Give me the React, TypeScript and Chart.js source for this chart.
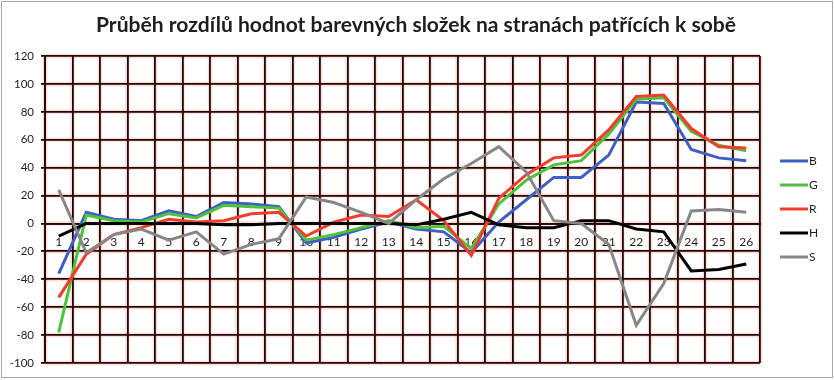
import React, { useEffect, useRef } from "react";
import { Chart, registerables } from "chart.js";

Chart.register(...registerables);

const TITLE = "Průběh rozdílů hodnot barevných složek na stranách patřících k sobě";

const categories = ["1", "2", "3", "4", "5", "6", "7", "8", "9", "10", "11", "12", "13", "14", "15", "16", "17", "18", "19", "20", "21", "22", "23", "24", "25", "26"];

const seriesB = [-36, 8, 3, 2, 9, 5, 15, 14, 12, -14, -10, -4, 1, -4, -6, -21, 1, 17, 33, 33, 49, 87, 86, 53, 47, 45];
const seriesG = [-78, 6, 2, 1, 7, 4, 13, 12, 11, -12, -8, -3, 2, -3, -2, -18, 14, 31, 42, 45, 64, 89, 90, 66, 56, 52];
const seriesR = [-53, -22, -8, -3, 3, 1, 2, 7, 8, -9, 1, 6, 5, 17, 2, -23, 18, 35, 47, 49, 67, 91, 92, 68, 55, 54];
const seriesH = [-9, 0, 0, 0, 0, 0, -1, -1, 0, 0, 0, 0, 0, -1, 3, 8, -1, -3, -3, 2, 2, -4, -6, -34, -33, -29];
const seriesS = [24, -21, -8, -4, -12, -6, -22, -15, -11, 19, 15, 8, 0, 17, 32, 43, 55, 37, 2, 0, -15, -73, -43, 9, 10, 8];

const Y_MIN = -100;
const Y_MAX = 120;
const Y_STEP = 20;

const GRID = "#240404";
const HALO = "rgba(235,140,120,0.28)";
const TEXT = "#1e1e1e";

const decorPlugin = {
  id: "decor",
  beforeDraw(chart: any) {
    const { ctx, width, height, chartArea, scales } = chart;
    ctx.save();
    ctx.fillStyle = "#ffffff";
    ctx.fillRect(0, 0, width, height);
    ctx.strokeStyle = "#a8a8a8";
    ctx.lineWidth = 1;
    ctx.strokeRect(1.5, 1.5, width - 3, height - 4);
    ctx.strokeStyle = HALO;
    ctx.lineWidth = 4.5;
    const y = scales.y;
    y.ticks.forEach((t: any) => {
      const py = y.getPixelForValue(t.value);
      ctx.beginPath();
      ctx.moveTo(chartArea.left, py);
      ctx.lineTo(chartArea.right, py);
      ctx.stroke();
    });
    const x = scales.x;
    for (let i = 0; i <= categories.length; i++) {
      const px = x.getPixelForValue(i - 0.5);
      ctx.beginPath();
      ctx.moveTo(px, chartArea.top);
      ctx.lineTo(px, chartArea.bottom);
      ctx.stroke();
    }
    ctx.restore();
  },
  afterDraw(chart: any) {
    const { ctx } = chart;
    ctx.save();
    ctx.font = "bold 20px Lato";
    ctx.fillStyle = TEXT;
    ctx.textBaseline = "middle";
    const tw = ctx.measureText(TITLE).width;
    const sx = 640 / tw;
    ctx.translate(416, 26);
    ctx.scale(sx, 1);
    ctx.textAlign = "center";
    ctx.fillText(TITLE, 0, 0);
    ctx.restore();

    ctx.save();
    const ds = chart.data.datasets;
    ctx.font = "12px Lato";
    ctx.textBaseline = "middle";
    ctx.textAlign = "left";
    ds.forEach((d: any, i: number) => {
      const ly = 161 + i * 24;
      ctx.strokeStyle = d.borderColor;
      ctx.lineWidth = 3;
      ctx.beginPath();
      ctx.moveTo(780, ly);
      ctx.lineTo(808, ly);
      ctx.stroke();
      ctx.fillStyle = TEXT;
      ctx.fillText(d.label, 809, ly + 0.5);
    });
    ctx.restore();
  },
};

export default function App() {
  const ref = useRef<HTMLCanvasElement | null>(null);

  useEffect(() => {
    if (!ref.current) return;
    const mk = (label: string, data: number[], color: string, order: number) => ({
      label,
      data,
      borderColor: color,
      backgroundColor: color,
      borderWidth: 3,
      pointRadius: 0,
      tension: 0,
      fill: false,
      order,
    });
    const chart = new Chart(ref.current, {
      type: "line",
      data: {
        labels: categories,
        datasets: [
          mk("B", seriesB, "#3f5fc4", 5),
          mk("G", seriesG, "#4fc23c", 4),
          mk("R", seriesR, "#f23c2c", 3),
          mk("H", seriesH, "#000000", 2),
          mk("S", seriesS, "#878787", 1),
        ],
      },
      options: {
        animation: false,
        responsive: false,
        maintainAspectRatio: false,
        layout: { padding: { left: 0, top: 56, right: 74, bottom: 17 } },
        plugins: {
          legend: { display: false },
          title: { display: false },
          tooltip: { enabled: false },
        },
        scales: {
          x: {
            type: "category",
            offset: true,
            position: { y: 0 } as any,
            grid: { offset: true, color: GRID, lineWidth: 1.8, drawTicks: false },
            border: { display: true, color: GRID, width: 1.8 },
            ticks: {
              padding: 11,
              color: TEXT,
              font: { family: "Lato", size: 12 },
              maxRotation: 0,
              autoSkip: false,
            },
          },
          y: {
            min: Y_MIN,
            max: Y_MAX,
            afterFit: (s: any) => {
              s.width = 45;
            },
            grid: { color: GRID, lineWidth: 1.8, tickLength: 4, drawTicks: true },
            border: { display: true, color: GRID, width: 1.8 },
            ticks: {
              stepSize: Y_STEP,
              padding: 7,
              color: TEXT,
              font: { family: "Lato", size: 11.5 },
            },
          },
        },
      },
      plugins: [decorPlugin],
    });
    return () => chart.destroy();
  }, []);

  return (
    <div style={{ position: "fixed", left: 0, top: 0, width: 834, height: 380, background: "#fff" }}>
      <canvas ref={ref} width={834} height={380} style={{ width: 834, height: 380, display: "block" }} />
    </div>
  );
}
